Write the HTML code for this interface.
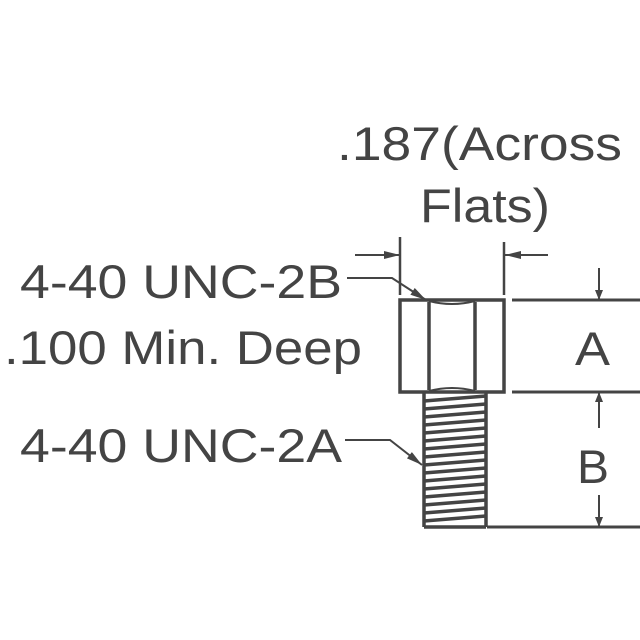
<!DOCTYPE html>
<html><head><style>html,body{margin:0;padding:0;background:#fff}svg{display:block}</style></head>
<body>
<svg width="640" height="640" viewBox="0 0 640 640" xmlns="http://www.w3.org/2000/svg">
<defs><marker id="ar" markerWidth="10" markerHeight="8" refX="10" refY="4" orient="auto" markerUnits="userSpaceOnUse"><path d="M0,0 L10,4 L0,8 Z" fill="#444"/></marker>
<marker id="ar2" markerWidth="16" markerHeight="8" refX="16" refY="4" orient="auto" markerUnits="userSpaceOnUse"><path d="M0,0 L16,4 L0,8 Z" fill="#444"/></marker></defs>
<g font-family="Liberation Sans, Arial, sans-serif" font-size="47" fill="#444">
<text x="337" y="160" textLength="285" lengthAdjust="spacingAndGlyphs">.187(Across</text>
<text x="420" y="222" textLength="130" lengthAdjust="spacingAndGlyphs">Flats)</text>
<text x="20" y="298" textLength="322" lengthAdjust="spacingAndGlyphs">4-40 UNC-2B</text>
<text x="4" y="364" textLength="358" lengthAdjust="spacingAndGlyphs">.100 Min. Deep</text>
<text x="20" y="462" textLength="322" lengthAdjust="spacingAndGlyphs">4-40 UNC-2A</text>
<text x="575" y="365" textLength="35" lengthAdjust="spacingAndGlyphs">A</text>
<text x="577" y="483" textLength="32" lengthAdjust="spacingAndGlyphs">B</text>
</g>
<g stroke="#444" stroke-width="3.5" fill="none">
<rect x="400" y="300" width="104" height="92" fill="#fff"/>
<path d="M429,302 V390 M475,302 V390"/>
<path d="M429,301 Q452,307 475,301 M429,391 Q452,385 475,391" stroke-width="2"/>
<path d="M424,393 V527 M486,393 V527 M424,527 H486"/>
<path d="M400,237 V295 M504,242 V295" stroke-width="2.5"/>
<path d="M355,255 H400" stroke-width="2" marker-end="url(#ar2)"/>
<path d="M548,255 H505" stroke-width="2" marker-end="url(#ar2)"/>
<path d="M512,300 H640 M512,392 H640 M487,527 H640" stroke-width="3"/>
<path d="M599,268 V300" stroke-width="2" marker-end="url(#ar)"/>
<path d="M599,428 V392" stroke-width="2" marker-end="url(#ar)"/>
<path d="M599,495 V527" stroke-width="2" marker-end="url(#ar)"/>
<path d="M347,278 H392 L426,300" stroke-width="2" marker-end="url(#ar2)"/>
<path d="M345,440 H390 L422,465" stroke-width="2" marker-end="url(#ar2)"/>
</g>
<g stroke="#444" stroke-width="3.5">
<line x1="424" y1="401" x2="486" y2="396"/><line x1="424" y1="409" x2="486" y2="404"/><line x1="424" y1="417" x2="486" y2="412"/><line x1="424" y1="425" x2="486" y2="420"/><line x1="424" y1="433" x2="486" y2="428"/><line x1="424" y1="441" x2="486" y2="436"/><line x1="424" y1="449" x2="486" y2="444"/><line x1="424" y1="457" x2="486" y2="452"/><line x1="424" y1="465" x2="486" y2="460"/><line x1="424" y1="473" x2="486" y2="468"/><line x1="424" y1="481" x2="486" y2="476"/><line x1="424" y1="489" x2="486" y2="484"/><line x1="424" y1="497" x2="486" y2="492"/><line x1="424" y1="505" x2="486" y2="500"/><line x1="424" y1="513" x2="486" y2="508"/><line x1="424" y1="521" x2="486" y2="516"/>
</g>
</svg>
</body></html>
